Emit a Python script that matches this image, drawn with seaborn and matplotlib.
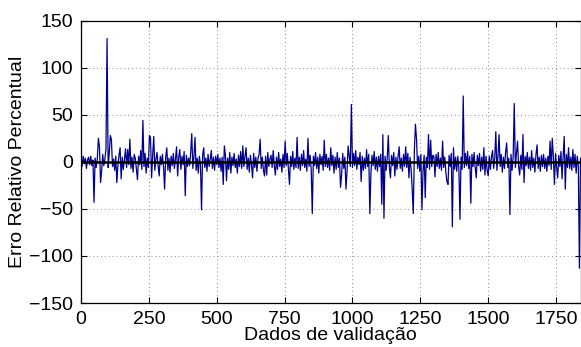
import matplotlib
matplotlib.use("Agg")
import matplotlib.pyplot as plt
import seaborn as sns
import pandas as pd
import numpy as np

# Sampled every 4 validation points (rows of 25 samples = 100 points)
step = 4
err_rows = [
    [3, -5, 6, -2, 4, -7, 2, 5, -3, 6, -4, 2, -43, 4, -6, 3, 25, 16, -22, -10, 8, -4, 3, 14, 131],
    [-6, 9, 28, 24, -5, 3, -9, 6, -22, -4, 7, 15, -18, 5, -8, 3, 14, -6, 13, -3, 24, -7, 5, -11, 8],
    [4, -7, -19, 6, -3, 12, -8, 44, -5, 9, -12, 4, -6, 28, 26, -17, 7, 27, -9, 3, 10, -4, -15, 6, -3],
    [8, -6, -29, 5, 15, -9, 4, -11, 6, -4, 9, -7, 3, 16, -15, 5, 13, -8, 6, -3, 11, -36, 7, -5, 4],
    [-4, 10, 30, -7, 5, 26, -9, 4, -12, 6, -3, -51, 7, 15, -6, 4, -10, 8, -5, 3, 12, -7, 5, -9, 6],
    [-3, 8, -6, 4, -10, 5, -24, 17, 7, -20, 4, -8, 10, -12, 5, -4, 9, -6, 3, -12, 7, -5, 11, -7, 17],
    [-5, 6, 15, -8, 4, -11, 7, -3, -17, 9, -6, 5, -10, 4, 8, 24, -7, 5, -9, -15, 6, -14, 10, -5, 3],
    [7, -6, 12, -4, -14, 5, -8, 10, -5, 3, -11, 8, -6, 22, -4, 9, -7, -24, 6, -5, 11, -8, 4, -6, 26],
    [-7, 5, -9, 8, -4, 12, -6, 3, -10, 25, -5, 7, -8, -55, 6, -4, 10, -7, 5, -12, 8, -3, 6, -9, 23],
    [-5, 8, -6, 4, -9, 15, -4, 7, -12, 5, -8, 10, -6, 4, -27, -14, 9, -7, 5, -29, -10, 17, 6, -5, 61],
    [-6, 9, -4, 12, -8, 5, -3, 10, -21, 6, -9, 4, -7, 13, -5, 8, -55, -12, 7, -4, 11, -8, 5, -10, 6],
    [-5, 8, -45, 29, -60, 6, -9, 4, 28, -6, -17, 7, -4, 10, -15, 5, -8, 6, 16, -7, 4, -10, 8, -5, 16],
    [-6, 9, -17, 5, -8, -29, -55, 12, 40, 24, -7, 6, -10, 8, -51, -9, 7, -38, 5, -6, 29, -8, 23, -5, 7],
    [6, -16, 8, -5, 10, -7, 4, -9, 22, -6, 5, -11, -21, -24, 7, -5, 9, -69, 15, -8, 5, -10, 6, -7, -61],
    [5, -8, 70, -6, 9, -4, 11, -7, 6, -44, 8, -5, 10, -6, -17, 7, -4, 9, -10, 5, -8, 15, -14, 6, -9],
    [-15, 6, -8, 5, 12, -7, 4, 32, -9, 6, 29, -5, 8, -11, 5, -7, 10, 20, -6, 4, -56, 8, -9, 6, 62],
    [-6, 9, 22, -5, -14, 7, -8, 29, -22, 6, -4, 10, -7, 5, -9, 12, -6, 4, -11, 8, 18, -7, 5, -10, 7],
    [-5, 8, -7, 4, -10, 6, -4, 22, -8, 25, 5, -24, 9, -6, -17, 7, -5, 11, -18, 6, 27, -29, 8, -6, 15],
    [-7, 5, -9, 13, -6, 8, -12, 6, -5, -113, 4, -3],
]
x_ticks = [0, 250, 500, 750, 1000, 1250, 1500, 1750]
y_ticks = [-150, -100, -50, 0, 50, 100, 150]

values = [v for row in err_rows for v in row]
idx = [i * step for i in range(len(values))]
df = pd.DataFrame({"Dados de validação": idx, "Erro Relativo Percentual": values})

plt.rcParams["font.family"] = ["Liberation Sans", "DejaVu Sans"]
fig = plt.figure(figsize=(5.81, 3.47), dpi=100)
ax = fig.add_axes([81 / 581, 1 - 303 / 347, 499.5 / 581, (303 - 20.7) / 347])

ax.grid(True, linestyle=(0, (1, 3)), color="#8c8c8c", linewidth=0.7, zorder=0)
sns.lineplot(data=df, x="Dados de validação", y="Erro Relativo Percentual",
             ax=ax, color="#00008c", linewidth=0.9, sort=False, estimator=None, zorder=2)
ax.axhline(0, color="black", linewidth=1.8, zorder=3)

ax.set_xlim(0, 1840)
ax.set_ylim(-150, 150)
ax.set_xticks(x_ticks)
ax.set_yticks(y_ticks)
ax.tick_params(direction="in", top=True, right=True, length=4, width=0.8,
               labelsize=14, pad=6, colors="black")
for s in ax.spines.values():
    s.set_linewidth(0.9)
    s.set_color("black")
ax.set_xlabel("Dados de validação", fontsize=14, labelpad=-1)
ax.set_ylabel("Erro Relativo Percentual", fontsize=14, labelpad=2)
ax.set_axisbelow(True)

fig.savefig("out.png", dpi=100)
